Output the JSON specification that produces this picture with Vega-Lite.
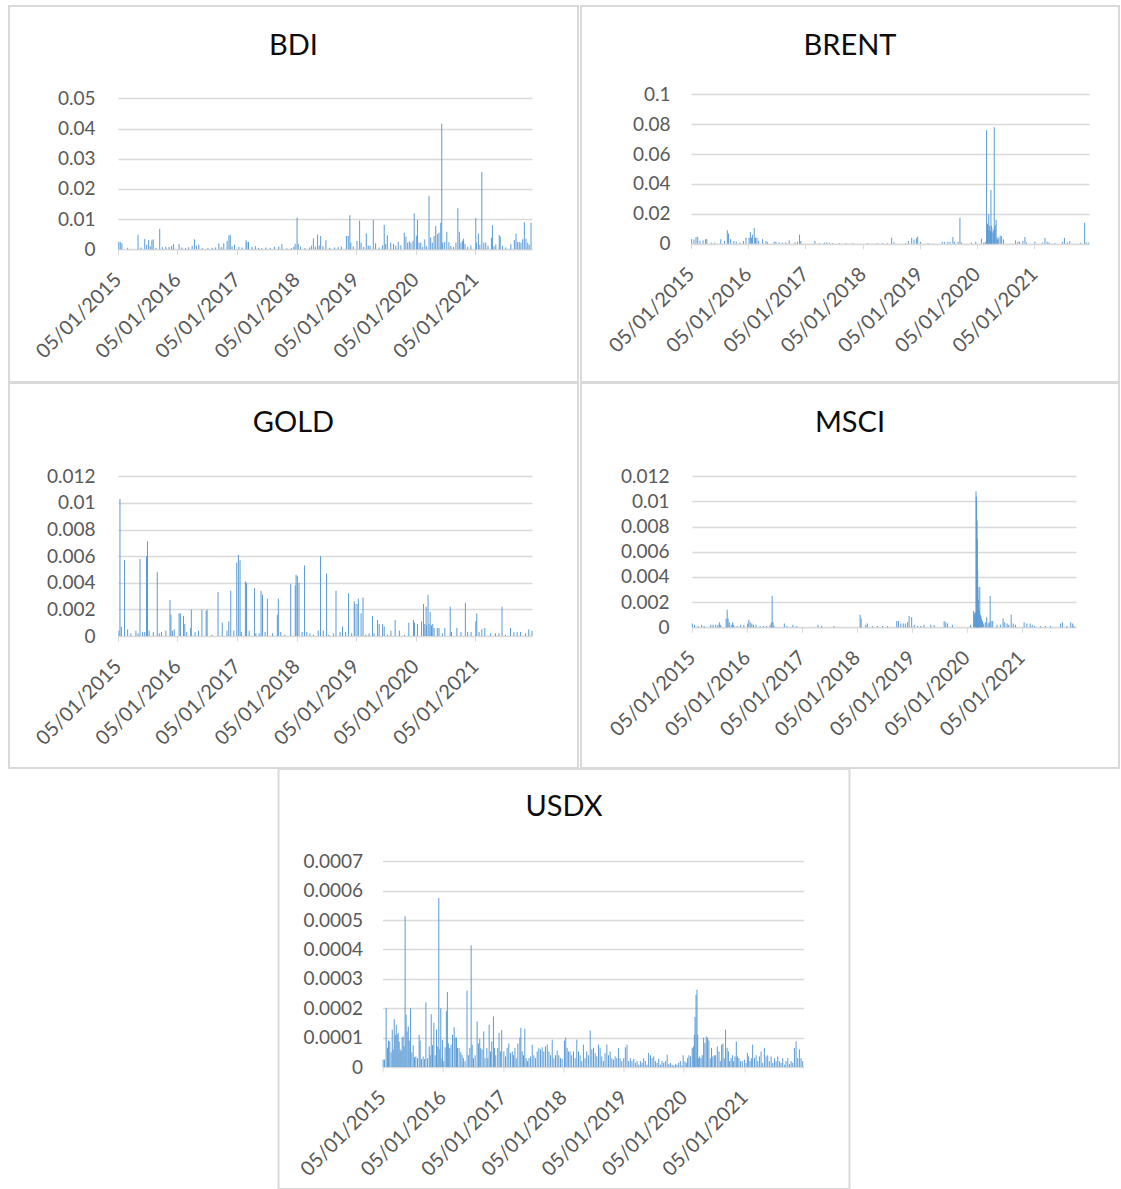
{
"$schema":"https://vega.github.io/schema/vega-lite/v6.json",
"background":"white",
"padding":{"left":8,"top":5,"right":0,"bottom":0},
"config":{
 "view":{"stroke":"#d9d9d9","strokeWidth":2},
 "font":"Lato",
 "axis":{"labelFont":"Lato","labelFontSize":19,"labelColor":"#595959","title":null},
 "axisX":{"labelFontSize":20},
 "title":{"font":"Lato","fontSize":29,"fontWeight":"normal","color":"#0d0d0d","anchor":"middle","frame":"group","baseline":"middle"},
 "rule":{"color":"#5B9BD5","strokeWidth":1}
},
"center":true,
"spacing":-2,
"datasets":{
"BDI":[
{"d":"2015-01-10","v":0.0025},{"d":"2015-01-19","v":0.0024},{"d":"2015-01-29","v":0.002},{"d":"2015-03-05","v":0.0005},{"d":"2015-05-08","v":0.0048},{"d":"2015-05-26","v":0.0006},{"d":"2015-06-18","v":0.0034},{"d":"2015-06-30","v":0.0015},{"d":"2015-07-12","v":0.003},{"d":"2015-07-22","v":0.001},{"d":"2015-08-01","v":0.003},{"d":"2015-08-09","v":0.0033},{"d":"2015-08-26","v":0.0005},{"d":"2015-09-18","v":0.0068},{"d":"2015-10-05","v":0.0007},{"d":"2015-10-26","v":0.0009},{"d":"2015-11-14","v":0.0008},{"d":"2015-11-30","v":0.0011},{"d":"2015-12-12","v":0.0017},
{"d":"2016-01-15","v":0.0017},{"d":"2016-02-01","v":0.0006},{"d":"2016-02-24","v":0.0005},{"d":"2016-03-14","v":0.0007},{"d":"2016-04-04","v":0.0012},{"d":"2016-04-18","v":0.0033},{"d":"2016-04-30","v":0.0012},{"d":"2016-05-15","v":0.0015},{"d":"2016-06-05","v":0.0004},{"d":"2016-07-10","v":0.0004},{"d":"2016-08-05","v":0.0005},{"d":"2016-08-25","v":0.0006},{"d":"2016-09-15","v":0.002},{"d":"2016-09-30","v":0.0008},{"d":"2016-10-15","v":0.002},{"d":"2016-11-05","v":0.0028},{"d":"2016-11-16","v":0.0046},{"d":"2016-11-24","v":0.0048},{"d":"2016-12-05","v":0.001},{"d":"2016-12-20","v":0.0015},
{"d":"2017-01-16","v":0.0008},{"d":"2017-02-05","v":0.0006},{"d":"2017-03-01","v":0.003},{"d":"2017-03-06","v":0.0024},{"d":"2017-03-16","v":0.0024},{"d":"2017-04-07","v":0.0008},{"d":"2017-04-27","v":0.001},{"d":"2017-05-17","v":0.0005},{"d":"2017-06-06","v":0.0004},{"d":"2017-07-01","v":0.0006},{"d":"2017-07-28","v":0.0005},{"d":"2017-08-22","v":0.0009},{"d":"2017-09-18","v":0.0009},{"d":"2017-10-07","v":0.0017},{"d":"2017-11-07","v":0.0003},{"d":"2017-12-04","v":0.0004},{"d":"2017-12-19","v":0.0008},{"d":"2017-12-27","v":0.0018},
{"d":"2018-01-08","v":0.0105},{"d":"2018-01-15","v":0.0018},{"d":"2018-01-29","v":0.0009},{"d":"2018-02-25","v":0.0004},{"d":"2018-03-26","v":0.0006},{"d":"2018-04-06","v":0.0012},{"d":"2018-04-18","v":0.0036},{"d":"2018-04-30","v":0.0009},{"d":"2018-05-14","v":0.0049},{"d":"2018-05-24","v":0.0012},{"d":"2018-06-02","v":0.0044},{"d":"2018-06-16","v":0.001},{"d":"2018-07-04","v":0.003},{"d":"2018-07-27","v":0.0005},{"d":"2018-08-27","v":0.0006},{"d":"2018-09-17","v":0.0007},{"d":"2018-10-07","v":0.0009},{"d":"2018-11-07","v":0.0044},{"d":"2018-11-18","v":0.0045},{"d":"2018-11-28","v":0.0113},{"d":"2018-12-04","v":0.0022},{"d":"2018-12-19","v":0.001},
{"d":"2019-01-11","v":0.0028},{"d":"2019-01-27","v":0.0095},{"d":"2019-02-05","v":0.0022},{"d":"2019-02-21","v":0.0008},{"d":"2019-03-09","v":0.0053},{"d":"2019-03-21","v":0.0012},{"d":"2019-04-01","v":0.0012},{"d":"2019-04-21","v":0.0097},{"d":"2019-05-05","v":0.002},{"d":"2019-05-26","v":0.0006},{"d":"2019-06-16","v":0.0013},{"d":"2019-06-27","v":0.0081},{"d":"2019-07-06","v":0.0018},{"d":"2019-07-16","v":0.0047},{"d":"2019-08-06","v":0.0022},{"d":"2019-08-23","v":0.0018},{"d":"2019-09-06","v":0.0012},{"d":"2019-09-21","v":0.0025},{"d":"2019-10-07","v":0.0013},{"d":"2019-10-28","v":0.0055},{"d":"2019-11-07","v":0.0042},{"d":"2019-11-18","v":0.0022},{"d":"2019-11-28","v":0.0026},{"d":"2019-12-08","v":0.0022},{"d":"2019-12-21","v":0.0028},{"d":"2019-12-28","v":0.0119},
{"d":"2020-01-10","v":0.0045},{"d":"2020-01-17","v":0.0097},{"d":"2020-01-27","v":0.0022},{"d":"2020-02-06","v":0.0022},{"d":"2020-02-18","v":0.0008},{"d":"2020-03-02","v":0.0033},{"d":"2020-03-13","v":0.001},{"d":"2020-03-28","v":0.0177},{"d":"2020-04-07","v":0.0039},{"d":"2020-04-17","v":0.0022},{"d":"2020-04-28","v":0.0044},{"d":"2020-05-08","v":0.0077},{"d":"2020-05-18","v":0.005},{"d":"2020-05-28","v":0.0055},{"d":"2020-06-08","v":0.0088},{"d":"2020-06-14","v":0.0416},{"d":"2020-06-20","v":0.0022},{"d":"2020-07-02","v":0.0024},{"d":"2020-07-15","v":0.0058},{"d":"2020-07-28","v":0.0024},{"d":"2020-08-09","v":0.0011},{"d":"2020-08-25","v":0.0008},{"d":"2020-09-09","v":0.0022},{"d":"2020-09-21","v":0.0136},{"d":"2020-09-30","v":0.0058},{"d":"2020-10-10","v":0.0022},{"d":"2020-10-20","v":0.0028},{"d":"2020-10-26","v":0.0035},{"d":"2020-11-04","v":0.0018},{"d":"2020-11-20","v":0.0008},{"d":"2020-12-10","v":0.0013},
{"d":"2021-01-09","v":0.0103},{"d":"2021-01-13","v":0.0022},{"d":"2021-01-25","v":0.0052},{"d":"2021-02-03","v":0.0015},{"d":"2021-02-15","v":0.0256},{"d":"2021-02-27","v":0.0022},{"d":"2021-03-11","v":0.0022},{"d":"2021-03-25","v":0.0012},{"d":"2021-04-15","v":0.0038},{"d":"2021-04-21","v":0.008},{"d":"2021-05-01","v":0.001},{"d":"2021-05-12","v":0.0016},{"d":"2021-06-02","v":0.0047},{"d":"2021-06-08","v":0.0042},{"d":"2021-06-22","v":0.0011},{"d":"2021-07-12","v":0.0006},{"d":"2021-08-12","v":0.0017},{"d":"2021-09-03","v":0.0031},{"d":"2021-09-13","v":0.0052},{"d":"2021-09-23","v":0.0024},{"d":"2021-10-03","v":0.0024},{"d":"2021-10-13","v":0.0022},{"d":"2021-10-24","v":0.0033},{"d":"2021-11-03","v":0.009},{"d":"2021-11-13","v":0.0035},{"d":"2021-11-24","v":0.0022},{"d":"2021-12-03","v":0.0015},{"d":"2021-12-14","v":0.0088}
],
"BRENT":[
{"d":"2015-01-09","v":0.003},{"d":"2015-01-24","v":0.0028},{"d":"2015-02-06","v":0.0045},{"d":"2015-02-17","v":0.0045},{"d":"2015-03-03","v":0.002},{"d":"2015-03-23","v":0.0022},{"d":"2015-04-08","v":0.003},{"d":"2015-04-16","v":0.003},{"d":"2015-05-14","v":0.0007},{"d":"2015-06-05","v":0.0007},{"d":"2015-07-14","v":0.003},{"d":"2015-08-07","v":0.0018},{"d":"2015-08-25","v":0.009},{"d":"2015-09-02","v":0.0067},{"d":"2015-09-15","v":0.003},{"d":"2015-10-06","v":0.0018},{"d":"2015-10-21","v":0.0013},{"d":"2015-11-12","v":0.0007},{"d":"2015-12-06","v":0.0018},{"d":"2015-12-22","v":0.004},
{"d":"2016-01-11","v":0.004},{"d":"2016-01-19","v":0.0078},{"d":"2016-01-27","v":0.004},{"d":"2016-02-01","v":0.006},{"d":"2016-02-13","v":0.0105},{"d":"2016-02-21","v":0.004},{"d":"2016-03-01","v":0.004},{"d":"2016-03-12","v":0.0018},{"d":"2016-04-06","v":0.003},{"d":"2016-04-28","v":0.0018},{"d":"2016-05-08","v":0.0011},{"d":"2016-06-19","v":0.0013},{"d":"2016-06-30","v":0.0013},{"d":"2016-07-20","v":0.0009},{"d":"2016-08-11","v":0.0007},{"d":"2016-09-02","v":0.0009},{"d":"2016-09-23","v":0.0022},{"d":"2016-10-30","v":0.0009},{"d":"2016-11-15","v":0.0013},{"d":"2016-11-28","v":0.006},{"d":"2016-12-06","v":0.0018},
{"d":"2017-03-06","v":0.0018},{"d":"2017-04-05","v":0.0004},{"d":"2017-05-06","v":0.0007},{"d":"2017-05-21","v":0.0009},{"d":"2017-06-07","v":0.0007},{"d":"2017-06-28","v":0.0004},{"d":"2017-08-10","v":0.0004},{"d":"2017-09-21","v":0.0004},{"d":"2017-11-03","v":0.0004},
{"d":"2018-02-05","v":0.0004},{"d":"2018-04-09","v":0.0004},{"d":"2018-05-10","v":0.0004},{"d":"2018-06-12","v":0.0004},{"d":"2018-07-09","v":0.004},{"d":"2018-07-24","v":0.0009},{"d":"2018-10-06","v":0.0004},{"d":"2018-10-24","v":0.0018},{"d":"2018-11-14","v":0.004},{"d":"2018-11-29","v":0.0027},{"d":"2018-12-14","v":0.0036},{"d":"2018-12-22","v":0.0047},
{"d":"2019-01-09","v":0.0013},{"d":"2019-02-27","v":0.0004},{"d":"2019-05-28","v":0.0013},{"d":"2019-06-12","v":0.0011},{"d":"2019-07-03","v":0.0013},{"d":"2019-07-17","v":0.0013},{"d":"2019-08-04","v":0.0045},{"d":"2019-08-15","v":0.0013},{"d":"2019-09-06","v":0.0013},{"d":"2019-09-18","v":0.0174},{"d":"2019-09-27","v":0.0009},{"d":"2019-12-01","v":0.0007},{"d":"2019-12-28","v":0.0013},
{"d":"2020-02-02","v":0.0033},{"d":"2020-02-16","v":0.0007},{"d":"2020-02-27","v":0.0013},{"d":"2020-03-06","v":0.076},{"d":"2020-03-09","v":0.0101},{"d":"2020-03-12","v":0.0134},{"d":"2020-03-16","v":0.009},{"d":"2020-03-20","v":0.0196},{"d":"2020-03-24","v":0.012},{"d":"2020-03-27","v":0.007},{"d":"2020-03-31","v":0.0085},{"d":"2020-04-03","v":0.036},{"d":"2020-04-06","v":0.012},{"d":"2020-04-09","v":0.0107},{"d":"2020-04-15","v":0.0076},{"d":"2020-04-20","v":0.009},{"d":"2020-04-24","v":0.078},{"d":"2020-04-27","v":0.011},{"d":"2020-04-30","v":0.0125},{"d":"2020-05-06","v":0.016},{"d":"2020-05-11","v":0.0045},{"d":"2020-05-15","v":0.0029},{"d":"2020-05-23","v":0.004},{"d":"2020-06-01","v":0.0054},{"d":"2020-06-10","v":0.005},{"d":"2020-06-22","v":0.0029},{"d":"2020-09-07","v":0.0022},{"d":"2020-09-22","v":0.0013},{"d":"2020-10-02","v":0.0013},{"d":"2020-10-24","v":0.0018},{"d":"2020-11-06","v":0.0045},{"d":"2020-11-15","v":0.0009},
{"d":"2021-01-09","v":0.0013},{"d":"2021-02-27","v":0.0007},{"d":"2021-03-14","v":0.004},{"d":"2021-03-28","v":0.0013},{"d":"2021-04-09","v":0.0009},{"d":"2021-05-16","v":0.0004},{"d":"2021-07-03","v":0.0013},{"d":"2021-07-16","v":0.004},{"d":"2021-08-04","v":0.0009},{"d":"2021-08-19","v":0.0018},{"d":"2021-10-28","v":0.0007},{"d":"2021-11-22","v":0.014},{"d":"2021-12-02","v":0.0009},{"d":"2021-12-16","v":0.0007}
],
"GOLD":[
{"d":"2015-01-11","v":0.0004},{"d":"2015-01-17","v":0.0103},{"d":"2015-01-26","v":0.0007},{"d":"2015-02-14","v":0.0057},{"d":"2015-03-05","v":0.0005},{"d":"2015-03-25","v":0.0002},{"d":"2015-04-25","v":0.0004},{"d":"2015-05-08","v":0.0002},{"d":"2015-05-20","v":0.0058},{"d":"2015-06-05","v":0.0003},{"d":"2015-06-18","v":0.0003},{"d":"2015-06-29","v":0.006},{"d":"2015-07-05","v":0.0071},{"d":"2015-07-15","v":0.0004},{"d":"2015-08-10","v":0.0003},{"d":"2015-09-03","v":0.0048},{"d":"2015-09-15","v":0.0002},{"d":"2015-09-29","v":0.0003},{"d":"2015-10-26","v":0.0004},{"d":"2015-11-20","v":0.0027},{"d":"2015-11-26","v":0.0016},{"d":"2015-12-05","v":0.0004},{"d":"2015-12-16","v":0.0005},
{"d":"2016-01-15","v":0.0017},{"d":"2016-01-23","v":0.0017},{"d":"2016-02-11","v":0.0015},{"d":"2016-02-19","v":0.0009},{"d":"2016-03-02","v":0.0003},{"d":"2016-03-26","v":0.0006},{"d":"2016-03-30","v":0.002},{"d":"2016-04-22","v":0.0003},{"d":"2016-05-13","v":0.0004},{"d":"2016-06-03","v":0.002},{"d":"2016-06-29","v":0.0019},{"d":"2016-07-05","v":0.002},{"d":"2016-08-03","v":0.0001},{"d":"2016-09-10","v":0.0033},{"d":"2016-10-06","v":0.001},{"d":"2016-11-04","v":0.0004},{"d":"2016-11-15","v":0.0011},{"d":"2016-11-27","v":0.0034},{"d":"2016-12-16","v":0.0004},
{"d":"2017-01-03","v":0.0055},{"d":"2017-01-13","v":0.0061},{"d":"2017-01-23","v":0.0057},{"d":"2017-01-31","v":0.0003},{"d":"2017-02-25","v":0.0041},{"d":"2017-03-04","v":0.004},{"d":"2017-03-20","v":0.0004},{"d":"2017-04-22","v":0.0036},{"d":"2017-04-30","v":0.0002},{"d":"2017-05-20","v":0.0002},{"d":"2017-06-01","v":0.0034},{"d":"2017-06-10","v":0.0031},{"d":"2017-06-26","v":0.0003},{"d":"2017-07-10","v":0.0028},{"d":"2017-08-10","v":0.0002},{"d":"2017-09-09","v":0.0016},{"d":"2017-09-15","v":0.0028},{"d":"2017-09-30","v":0.0003},{"d":"2017-10-25","v":0.0001},{"d":"2017-11-30","v":0.0039},{"d":"2017-12-28","v":0.0038},
{"d":"2018-01-02","v":0.0046},{"d":"2018-01-10","v":0.0045},{"d":"2018-01-20","v":0.004},{"d":"2018-02-08","v":0.0003},{"d":"2018-02-23","v":0.0053},{"d":"2018-03-09","v":0.0003},{"d":"2018-03-28","v":0.0002},{"d":"2018-04-18","v":0.0001},{"d":"2018-05-18","v":0.0004},{"d":"2018-06-01","v":0.006},{"d":"2018-06-18","v":0.0004},{"d":"2018-07-08","v":0.0047},{"d":"2018-07-22","v":0.0001},{"d":"2018-08-19","v":0.0002},{"d":"2018-09-04","v":0.0034},{"d":"2018-09-29","v":0.0003},{"d":"2018-10-14","v":0.0007},{"d":"2018-11-02","v":0.0003},{"d":"2018-11-20","v":0.0032},{"d":"2018-12-09","v":0.0002},{"d":"2018-12-25","v":0.0026},{"d":"2018-12-29","v":0.0024},
{"d":"2019-01-11","v":0.0024},{"d":"2019-01-19","v":0.0028},{"d":"2019-02-05","v":0.0017},{"d":"2019-02-17","v":0.0029},{"d":"2019-03-06","v":0.0001},{"d":"2019-03-26","v":0.0002},{"d":"2019-04-16","v":0.0015},{"d":"2019-04-26","v":0.0002},{"d":"2019-05-17","v":0.0012},{"d":"2019-05-27","v":0.0009},{"d":"2019-06-17","v":0.0009},{"d":"2019-06-27","v":0.0007},{"d":"2019-07-17","v":0.0001},{"d":"2019-08-07","v":0.0004},{"d":"2019-09-02","v":0.0012},{"d":"2019-09-28","v":0.0004},{"d":"2019-10-29","v":0.0001},{"d":"2019-11-25","v":0.001},{"d":"2019-12-24","v":0.0012},{"d":"2019-12-30","v":0.001},
{"d":"2020-01-17","v":0.0009},{"d":"2020-02-11","v":0.0011},{"d":"2020-02-23","v":0.0024},{"d":"2020-03-02","v":0.0009},{"d":"2020-03-10","v":0.0022},{"d":"2020-03-13","v":0.0008},{"d":"2020-03-22","v":0.0031},{"d":"2020-03-28","v":0.0009},{"d":"2020-04-04","v":0.0018},{"d":"2020-04-12","v":0.0008},{"d":"2020-04-20","v":0.0009},{"d":"2020-04-28","v":0.0006},{"d":"2020-05-18","v":0.0006},{"d":"2020-05-28","v":0.0006},{"d":"2020-06-18","v":0.0002},{"d":"2020-07-03","v":0.0006},{"d":"2020-08-05","v":0.0022},{"d":"2020-08-13","v":0.0003},{"d":"2020-09-15","v":0.0006},{"d":"2020-10-10","v":0.0003},{"d":"2020-11-06","v":0.0025},{"d":"2020-11-20","v":0.0003},{"d":"2020-12-11","v":0.0003},
{"d":"2021-01-09","v":0.0011},{"d":"2021-01-15","v":0.0017},{"d":"2021-01-29","v":0.0003},{"d":"2021-02-15","v":0.0005},{"d":"2021-03-05","v":0.0006},{"d":"2021-04-10","v":0.0002},{"d":"2021-05-10","v":0.0002},{"d":"2021-05-31","v":0.0002},{"d":"2021-06-19","v":0.0022},{"d":"2021-07-10","v":0.0001},{"d":"2021-08-10","v":0.0006},{"d":"2021-08-31","v":0.0003},{"d":"2021-09-20","v":0.0003},{"d":"2021-10-10","v":0.0003},{"d":"2021-11-10","v":0.0002},{"d":"2021-11-30","v":0.0005},{"d":"2021-12-20","v":0.0004}
],
"MSCI":[
{"d":"2015-01-07","v":0.0003},{"d":"2015-01-22","v":0.0002},{"d":"2015-02-14","v":0.0001},{"d":"2015-03-10","v":0.0002},{"d":"2015-03-27","v":0.0001},{"d":"2015-05-10","v":0.0002},{"d":"2015-05-25","v":0.0002},{"d":"2015-06-12","v":0.0002},{"d":"2015-06-27","v":0.0002},{"d":"2015-07-06","v":0.0004},{"d":"2015-07-15","v":0.0002},{"d":"2015-08-20","v":0.0007},{"d":"2015-08-27","v":0.0014},{"d":"2015-09-02","v":0.0007},{"d":"2015-09-10","v":0.0004},{"d":"2015-09-23","v":0.0002},{"d":"2015-10-02","v":0.0004},{"d":"2015-10-10","v":0.0002},{"d":"2015-11-02","v":0.0001},{"d":"2015-11-25","v":0.0002},{"d":"2015-12-16","v":0.0002},
{"d":"2016-01-10","v":0.0003},{"d":"2016-01-18","v":0.0006},{"d":"2016-01-27","v":0.0004},{"d":"2016-02-07","v":0.0003},{"d":"2016-02-18","v":0.0002},{"d":"2016-03-06","v":0.0002},{"d":"2016-04-02","v":0.0001},{"d":"2016-04-24","v":0.0001},{"d":"2016-05-16","v":0.0001},{"d":"2016-06-07","v":0.0002},{"d":"2016-06-16","v":0.0004},{"d":"2016-06-21","v":0.0025},{"d":"2016-06-27","v":0.0004},{"d":"2016-07-04","v":0.0001},{"d":"2016-09-10","v":0.0003},{"d":"2016-09-27","v":0.0001},{"d":"2016-11-06","v":0.0002},{"d":"2016-12-02","v":0.0001},
{"d":"2017-04-22","v":0.0002},{"d":"2017-05-16","v":0.0001},{"d":"2017-08-06","v":0.0001},
{"d":"2018-01-27","v":0.001},{"d":"2018-02-03","v":0.0007},{"d":"2018-03-06","v":0.0002},{"d":"2018-03-16","v":0.0003},{"d":"2018-04-19","v":0.0001},{"d":"2018-05-22","v":0.0001},{"d":"2018-06-25","v":0.0001},{"d":"2018-07-28","v":0.0001},{"d":"2018-09-28","v":0.0005},{"d":"2018-10-09","v":0.0005},{"d":"2018-10-25","v":0.0003},{"d":"2018-11-10","v":0.0003},{"d":"2018-11-24","v":0.0003},{"d":"2018-12-09","v":0.0004},{"d":"2018-12-19","v":0.0009},
{"d":"2019-01-05","v":0.0008},{"d":"2019-01-22","v":0.0002},{"d":"2019-02-14","v":0.0001},{"d":"2019-03-06","v":0.0001},{"d":"2019-03-28","v":0.0002},{"d":"2019-05-12","v":0.0002},{"d":"2019-06-03","v":0.0002},{"d":"2019-08-09","v":0.0005},{"d":"2019-08-20","v":0.0004},{"d":"2019-09-01","v":0.0003},{"d":"2019-10-03","v":0.0002},
{"d":"2020-02-01","v":0.0002},{"d":"2020-02-21","v":0.0013},{"d":"2020-02-27","v":0.0011},{"d":"2020-03-04","v":0.0012},{"d":"2020-03-08","v":0.0108},{"d":"2020-03-10","v":0.0104},{"d":"2020-03-12","v":0.01},{"d":"2020-03-15","v":0.0085},{"d":"2020-03-17","v":0.007},{"d":"2020-03-19","v":0.0045},{"d":"2020-03-21","v":0.0032},{"d":"2020-03-24","v":0.0022},{"d":"2020-03-26","v":0.0015},{"d":"2020-03-30","v":0.0013},{"d":"2020-04-02","v":0.0032},{"d":"2020-04-06","v":0.001},{"d":"2020-04-09","v":0.0009},{"d":"2020-04-13","v":0.0007},{"d":"2020-04-20","v":0.0005},{"d":"2020-04-28","v":0.0003},{"d":"2020-05-09","v":0.0004},{"d":"2020-05-18","v":0.0008},{"d":"2020-05-27","v":0.0003},{"d":"2020-06-04","v":0.0004},{"d":"2020-06-10","v":0.0025},{"d":"2020-06-16","v":0.0005},{"d":"2020-06-27","v":0.0005},{"d":"2020-07-25","v":0.0002},{"d":"2020-08-17","v":0.0002},{"d":"2020-09-04","v":0.0007},{"d":"2020-09-15","v":0.0004},{"d":"2020-10-01","v":0.0003},{"d":"2020-10-12","v":0.0002},{"d":"2020-10-28","v":0.001},{"d":"2020-11-10","v":0.0003},{"d":"2020-11-26","v":0.0002},
{"d":"2021-01-22","v":0.0004},{"d":"2021-02-09","v":0.0003},{"d":"2021-03-03","v":0.0003},{"d":"2021-03-17","v":0.0002},{"d":"2021-04-02","v":0.0001},{"d":"2021-05-12","v":0.0001},{"d":"2021-06-14","v":0.0001},{"d":"2021-07-17","v":0.0001},{"d":"2021-09-22","v":0.0003},{"d":"2021-10-04","v":0.0004},{"d":"2021-11-02","v":0.0001},{"d":"2021-11-28","v":0.0004},{"d":"2021-12-11","v":0.0003},{"d":"2021-12-19","v":0.0001}
],
"USDX":[
{"d":"2015-01-09","v":0.000025},{"d":"2015-01-17","v":0.000025},{"d":"2015-01-27","v":0.0002},{"d":"2015-02-04","v":0.000065},{"d":"2015-02-10","v":0.00009},{"d":"2015-02-18","v":0.000087},{"d":"2015-02-26","v":0.00005},{"d":"2015-03-05","v":0.000127},{"d":"2015-03-11","v":0.00006},{"d":"2015-03-17","v":0.000163},{"d":"2015-03-23","v":0.00011},{"d":"2015-03-29","v":0.000144},{"d":"2015-04-04","v":0.00011},{"d":"2015-04-10","v":0.000116},{"d":"2015-04-16","v":0.000087},{"d":"2015-04-22","v":0.00006},{"d":"2015-04-28","v":0.000055},{"d":"2015-05-04","v":0.0001},{"d":"2015-05-10","v":0.000104},{"d":"2015-05-16","v":0.00007},{"d":"2015-05-22","v":0.000513},{"d":"2015-05-28","v":0.000178},{"d":"2015-06-03","v":0.000121},{"d":"2015-06-10","v":0.000138},{"d":"2015-06-16","v":0.00009},{"d":"2015-06-24","v":0.0002},{"d":"2015-07-02","v":0.00005},{"d":"2015-07-10","v":0.000074},{"d":"2015-07-18","v":0.000033},{"d":"2015-07-26","v":0.000036},{"d":"2015-08-05","v":0.00003},{"d":"2015-08-15","v":0.00011},{"d":"2015-08-21","v":0.00009},{"d":"2015-08-29","v":0.000027},{"d":"2015-09-08","v":0.000036},{"d":"2015-09-17","v":0.000027},{"d":"2015-09-25","v":0.00022},{"d":"2015-10-05","v":0.00003},{"d":"2015-10-15","v":0.00007},{"d":"2015-10-21","v":0.00004},{"d":"2015-10-27","v":0.00018},{"d":"2015-11-04","v":0.000074},{"d":"2015-11-12","v":0.00015},{"d":"2015-11-20","v":0.00004},{"d":"2015-11-28","v":0.000127},{"d":"2015-12-06","v":0.00007},{"d":"2015-12-12","v":0.000575},{"d":"2015-12-18","v":0.00006},{"d":"2015-12-24","v":0.0002},{"d":"2015-12-31","v":0.00003},
{"d":"2016-01-03","v":0.000092},{"d":"2016-01-11","v":0.00002},{"d":"2016-01-19","v":0.000067},{"d":"2016-01-27","v":0.00019},{"d":"2016-02-02","v":0.000255},{"d":"2016-02-08","v":0.00008},{"d":"2016-02-16","v":0.000065},{"d":"2016-02-24","v":0.000076},{"d":"2016-03-04","v":0.00011},{"d":"2016-03-14","v":0.000135},{"d":"2016-03-20","v":0.0001},{"d":"2016-03-28","v":0.0001},{"d":"2016-04-03","v":0.000065},{"d":"2016-04-13","v":0.000065},{"d":"2016-04-23","v":0.00005},{"d":"2016-05-01","v":0.00004},{"d":"2016-05-09","v":0.00003},{"d":"2016-05-19","v":0.00002},{"d":"2016-05-31","v":0.00026},{"d":"2016-06-08","v":0.00004},{"d":"2016-06-17","v":0.000065},{"d":"2016-06-25","v":0.000414},{"d":"2016-07-01","v":0.000076},{"d":"2016-07-09","v":0.00003},{"d":"2016-07-19","v":0.00004},{"d":"2016-07-31","v":0.000155},{"d":"2016-08-08","v":0.00008},{"d":"2016-08-16","v":0.000096},{"d":"2016-08-22","v":0.000065},{"d":"2016-08-30","v":0.00006},{"d":"2016-09-09","v":0.000121},{"d":"2016-09-17","v":0.00003},{"d":"2016-09-28","v":0.000065},{"d":"2016-10-04","v":0.00003},{"d":"2016-10-12","v":0.000144},{"d":"2016-10-20","v":0.000053},{"d":"2016-10-28","v":0.000087},{"d":"2016-11-07","v":0.000172},{"d":"2016-11-13","v":0.000065},{"d":"2016-11-21","v":0.00004},{"d":"2016-12-03","v":0.000065},{"d":"2016-12-11","v":0.000116},{"d":"2016-12-19","v":0.000053},{"d":"2016-12-27","v":0.000126},
{"d":"2017-01-09","v":0.000053},{"d":"2017-01-19","v":0.000036},{"d":"2017-01-29","v":0.000065},{"d":"2017-02-08","v":0.00008},{"d":"2017-02-18","v":0.000048},{"d":"2017-03-01","v":0.000053},{"d":"2017-03-09","v":0.00004},{"d":"2017-03-17","v":0.000065},{"d":"2017-03-25","v":0.00003},{"d":"2017-04-04","v":0.00008},{"d":"2017-04-16","v":0.0001},{"d":"2017-04-22","v":0.000133},{"d":"2017-04-30","v":0.000053},{"d":"2017-05-08","v":0.00004},{"d":"2017-05-16","v":0.00013},{"d":"2017-05-24","v":0.00003},{"d":"2017-06-01","v":0.00002},{"d":"2017-06-10","v":0.00003},{"d":"2017-06-20","v":0.000036},{"d":"2017-06-30","v":0.000076},{"d":"2017-07-10","v":0.00004},{"d":"2017-07-20","v":0.00003},{"d":"2017-07-30","v":0.000053},{"d":"2017-08-09","v":0.000065},{"d":"2017-08-19","v":0.00006},{"d":"2017-08-29","v":0.000067},{"d":"2017-09-08","v":0.000053},{"d":"2017-09-18","v":0.00007},{"d":"2017-09-29","v":0.000076},{"d":"2017-10-09","v":0.000053},{"d":"2017-10-19","v":0.00004},{"d":"2017-10-29","v":0.000093},{"d":"2017-11-08","v":0.00003},{"d":"2017-11-18","v":0.00004},{"d":"2017-11-28","v":0.000056},{"d":"2017-12-08","v":0.00004},{"d":"2017-12-18","v":0.00003},{"d":"2017-12-28","v":0.000028},
{"d":"2018-01-11","v":0.00009},{"d":"2018-01-19","v":0.0001},{"d":"2018-01-27","v":0.000065},{"d":"2018-02-04","v":0.000053},{"d":"2018-02-14","v":0.000053},{"d":"2018-02-24","v":0.00004},{"d":"2018-03-07","v":0.000053},{"d":"2018-03-17","v":0.00003},{"d":"2018-03-27","v":0.000093},{"d":"2018-04-06","v":0.000053},{"d":"2018-04-16","v":0.00004},{"d":"2018-04-26","v":0.00002},{"d":"2018-05-06","v":0.000076},{"d":"2018-05-16","v":0.00003},{"d":"2018-05-26","v":0.000053},{"d":"2018-06-05","v":0.00004},{"d":"2018-06-16","v":0.000124},{"d":"2018-06-26","v":0.00006},{"d":"2018-07-06","v":0.000065},{"d":"2018-07-16","v":0.000047},{"d":"2018-07-26","v":0.000036},{"d":"2018-08-05","v":0.000076},{"d":"2018-08-15","v":0.000065},{"d":"2018-08-25","v":0.000036},{"d":"2018-09-04","v":0.00002},{"d":"2018-09-14","v":0.000047},{"d":"2018-09-25","v":0.000076},{"d":"2018-10-05","v":0.00004},{"d":"2018-10-15","v":0.000053},{"d":"2018-10-25","v":0.00003},{"d":"2018-11-04","v":0.000025},{"d":"2018-11-14","v":0.000036},{"d":"2018-11-24","v":0.00003},{"d":"2018-12-04","v":0.000065},{"d":"2018-12-14","v":0.00003},{"d":"2018-12-24","v":0.00002},
{"d":"2019-01-05","v":0.00003},{"d":"2019-01-15","v":0.000067},{"d":"2019-01-25","v":0.000076},{"d":"2019-02-04","v":0.00002},{"d":"2019-02-14","v":0.00003},{"d":"2019-02-24","v":0.00002},{"d":"2019-03-07","v":0.000028},{"d":"2019-03-17","v":0.000014},{"d":"2019-03-27","v":0.00002},{"d":"2019-04-06","v":0.000008},{"d":"2019-04-16","v":0.00002},{"d":"2019-04-26","v":0.000014},{"d":"2019-05-06","v":0.00003},{"d":"2019-05-16","v":0.00002},{"d":"2019-05-26","v":0.000008},{"d":"2019-06-05","v":0.000048},{"d":"2019-06-16","v":0.00004},{"d":"2019-06-26","v":0.00003},{"d":"2019-07-06","v":0.000036},{"d":"2019-07-16","v":0.00002},{"d":"2019-07-26","v":0.000014},{"d":"2019-08-05","v":0.000028},{"d":"2019-08-15","v":0.000008},{"d":"2019-08-25","v":0.00002},{"d":"2019-09-04","v":0.000014},{"d":"2019-09-14","v":0.00002},{"d":"2019-09-25","v":0.000042},{"d":"2019-10-05","v":0.00001},{"d":"2019-10-15","v":0.000014},{"d":"2019-10-25","v":0.000008},{"d":"2019-11-04","v":0.000005},{"d":"2019-11-14","v":0.00001},{"d":"2019-11-24","v":0.000008},{"d":"2019-12-04","v":0.000014},{"d":"2019-12-14","v":0.00002},{"d":"2019-12-24","v":0.000005},{"d":"2019-12-31","v":0.00004},
{"d":"2020-01-11","v":0.00002},{"d":"2020-01-19","v":0.000014},{"d":"2020-01-27","v":0.00003},{"d":"2020-02-04","v":0.00004},{"d":"2020-02-14","v":0.000036},{"d":"2020-02-24","v":0.000065},{"d":"2020-03-02","v":0.00007},{"d":"2020-03-08","v":0.00011},{"d":"2020-03-12","v":0.00017},{"d":"2020-03-18","v":0.000246},{"d":"2020-03-24","v":0.000263},{"d":"2020-03-28","v":0.00011},{"d":"2020-04-03","v":0.00003},{"d":"2020-04-09","v":0.000036},{"d":"2020-04-17","v":0.00003},{"d":"2020-04-25","v":0.00004},{"d":"2020-05-03","v":0.0001},{"d":"2020-05-11","v":0.000082},{"d":"2020-05-19","v":0.000104},{"d":"2020-05-27","v":0.0001},{"d":"2020-06-04","v":0.00009},{"d":"2020-06-12","v":0.00003},{"d":"2020-06-20","v":0.000065},{"d":"2020-06-28","v":0.000036},{"d":"2020-07-07","v":0.00004},{"d":"2020-07-15","v":0.00004},{"d":"2020-07-25","v":0.00007},{"d":"2020-08-04","v":0.000053},{"d":"2020-08-12","v":0.00002},{"d":"2020-08-20","v":0.000076},{"d":"2020-08-28","v":0.00008},{"d":"2020-09-05","v":0.00003},{"d":"2020-09-13","v":0.000127},{"d":"2020-09-22","v":0.000065},{"d":"2020-09-30","v":0.000053},{"d":"2020-10-08","v":0.00002},{"d":"2020-10-16","v":0.00003},{"d":"2020-10-24","v":0.00004},{"d":"2020-11-01","v":0.00002},{"d":"2020-11-09","v":0.000036},{"d":"2020-11-17","v":0.000087},{"d":"2020-11-25","v":0.000036},{"d":"2020-12-03","v":0.00003},{"d":"2020-12-13","v":0.00002},{"d":"2020-12-23","v":0.00002},
{"d":"2021-01-05","v":0.000025},{"d":"2021-01-15","v":0.000014},{"d":"2021-01-23","v":0.000048},{"d":"2021-01-31","v":0.000036},{"d":"2021-02-08","v":0.00002},{"d":"2021-02-16","v":0.00003},{"d":"2021-02-24","v":0.000076},{"d":"2021-03-07","v":0.00003},{"d":"2021-03-17","v":0.00004},{"d":"2021-03-27","v":0.00002},{"d":"2021-04-06","v":0.000036},{"d":"2021-04-16","v":0.000053},{"d":"2021-04-26","v":0.000014},{"d":"2021-05-06","v":0.000065},{"d":"2021-05-16","v":0.000036},{"d":"2021-05-26","v":0.00004},{"d":"2021-06-05","v":0.00002},{"d":"2021-06-16","v":0.000036},{"d":"2021-06-26","v":0.000014},{"d":"2021-07-06","v":0.00003},{"d":"2021-07-16","v":0.00002},{"d":"2021-07-26","v":0.000036},{"d":"2021-08-05","v":0.00002},{"d":"2021-08-15","v":0.000014},{"d":"2021-08-25","v":0.00003},{"d":"2021-09-04","v":0.000008},{"d":"2021-09-14","v":0.00002},{"d":"2021-09-25","v":0.00003},{"d":"2021-10-05","v":0.00001},{"d":"2021-10-15","v":0.00002},{"d":"2021-10-25","v":0.000014},{"d":"2021-11-04","v":0.000065},{"d":"2021-11-14","v":0.000087},{"d":"2021-11-24","v":0.00003},{"d":"2021-12-04","v":0.00006},{"d":"2021-12-14","v":0.00003},{"d":"2021-12-24","v":0.00002}
]
},
"vconcat":[
{"hconcat":[
 {"width":569,"height":376,"data":{"name":"BDI"},"title":{"text":"BDI","offset":-55},"mark":{"type":"rule"},
  "encoding":{
   "x":{"field":"d","type":"temporal","scale":{"domain":[{"year":2015,"month":1,"date":5},{"year":2021,"month":12,"date":20}],"range":[109,523]},
        "axis":{"values":[{"year":2015,"month":1,"date":5},{"year":2016,"month":1,"date":5},{"year":2017,"month":1,"date":5},{"year":2018,"month":1,"date":5},{"year":2019,"month":1,"date":5},{"year":2020,"month":1,"date":5},{"year":2021,"month":1,"date":5}],"format":"%d/%m/%Y","labelAngle":-45,"labelAlign":"right","labelBaseline":"middle","labelOverlap":false,"labelFlush":false,"labelBound":false,"grid":false,"domainColor":"#d9d9d9","tickColor":"#d9d9d9","tickSize":5,"labelPadding":22,"offset":-132.7}},
   "y":{"field":"v","type":"quantitative","scale":{"domain":[0,0.05],"range":[243.3,92.3],"nice":false},
        "axis":{"values":[0,0.01,0.02,0.03,0.04,0.05],"format":"~g","ticks":false,"tickSize":0,"domain":false,"grid":true,"gridColor":"#d9d9d9","gridWidth":1.3,"labelPadding":23,"offset":-109}},
   "y2":{"datum":0}}},
 {"width":538,"height":376,"data":{"name":"BRENT"},"title":{"text":"BRENT","offset":-55},"mark":{"type":"rule"},
  "encoding":{
   "x":{"field":"d","type":"temporal","scale":{"domain":[{"year":2015,"month":1,"date":5},{"year":2021,"month":12,"date":20}],"range":[110,508]},
        "axis":{"values":[{"year":2015,"month":1,"date":5},{"year":2016,"month":1,"date":5},{"year":2017,"month":1,"date":5},{"year":2018,"month":1,"date":5},{"year":2019,"month":1,"date":5},{"year":2020,"month":1,"date":5},{"year":2021,"month":1,"date":5}],"format":"%d/%m/%Y","labelAngle":-45,"labelAlign":"right","labelBaseline":"middle","labelOverlap":false,"labelFlush":false,"labelBound":false,"grid":false,"domainColor":"#d9d9d9","tickColor":"#d9d9d9","tickSize":5,"labelPadding":22,"offset":-138.3}},
   "y":{"field":"v","type":"quantitative","scale":{"domain":[0,0.1],"range":[237.7,88.3],"nice":false},
        "axis":{"values":[0,0.02,0.04,0.06,0.08,0.1],"format":"~g","ticks":false,"tickSize":0,"domain":false,"grid":true,"gridColor":"#d9d9d9","gridWidth":1.3,"labelPadding":21,"offset":-110}},
   "y2":{"datum":0}}}
],"spacing":1},
{"hconcat":[
 {"width":569,"height":385,"data":{"name":"GOLD"},"title":{"text":"GOLD","offset":-55},"mark":{"type":"rule"},
  "encoding":{
   "x":{"field":"d","type":"temporal","scale":{"domain":[{"year":2015,"month":1,"date":5},{"year":2021,"month":12,"date":20}],"range":[109,523]},
        "axis":{"values":[{"year":2015,"month":1,"date":5},{"year":2016,"month":1,"date":5},{"year":2017,"month":1,"date":5},{"year":2018,"month":1,"date":5},{"year":2019,"month":1,"date":5},{"year":2020,"month":1,"date":5},{"year":2021,"month":1,"date":5}],"format":"%d/%m/%Y","labelAngle":-45,"labelAlign":"right","labelBaseline":"middle","labelOverlap":false,"labelFlush":false,"labelBound":false,"grid":false,"domainColor":"#d9d9d9","tickColor":"#d9d9d9","tickSize":5,"labelPadding":22,"offset":-132}},
   "y":{"field":"v","type":"quantitative","scale":{"domain":[0,0.012],"range":[253,93.3],"nice":false},
        "axis":{"values":[0,0.002,0.004,0.006,0.008,0.01,0.012],"format":"~g","ticks":false,"tickSize":0,"domain":false,"grid":true,"gridColor":"#d9d9d9","gridWidth":1.3,"labelPadding":23,"offset":-109}},
   "y2":{"datum":0}}},
 {"width":538,"height":385,"data":{"name":"MSCI"},"title":{"text":"MSCI","offset":-55},"mark":{"type":"rule"},
  "encoding":{
   "x":{"field":"d","type":"temporal","scale":{"domain":[{"year":2015,"month":1,"date":5},{"year":2022,"month":1,"date":2}],"range":[111,495]},
        "axis":{"values":[{"year":2015,"month":1,"date":5},{"year":2016,"month":1,"date":5},{"year":2017,"month":1,"date":5},{"year":2018,"month":1,"date":5},{"year":2019,"month":1,"date":5},{"year":2020,"month":1,"date":5},{"year":2021,"month":1,"date":5}],"format":"%d/%m/%Y","labelAngle":-45,"labelAlign":"right","labelBaseline":"middle","labelOverlap":false,"labelFlush":false,"labelBound":false,"grid":false,"domainColor":"#d9d9d9","tickColor":"#d9d9d9","tickSize":5,"labelPadding":22,"offset":-140.7}},
   "y":{"field":"v","type":"quantitative","scale":{"domain":[0,0.012],"range":[244.3,93.3],"nice":false},
        "axis":{"values":[0,0.002,0.004,0.006,0.008,0.01,0.012],"format":"~g","ticks":false,"tickSize":0,"domain":false,"grid":true,"gridColor":"#d9d9d9","gridWidth":1.3,"labelPadding":23,"offset":-111}},
   "y2":{"datum":0}}}
],"spacing":1},
 {"width":571,"height":420,"data":{"name":"USDX"},"title":{"text":"USDX","offset":-53},"mark":{"type":"rule"},
  "encoding":{
   "x":{"field":"d","type":"temporal","scale":{"domain":[{"year":2015,"month":1,"date":5},{"year":2021,"month":12,"date":29}],"range":[104,525]},
        "axis":{"values":[{"year":2015,"month":1,"date":5},{"year":2016,"month":1,"date":5},{"year":2017,"month":1,"date":5},{"year":2018,"month":1,"date":5},{"year":2019,"month":1,"date":5},{"year":2020,"month":1,"date":5},{"year":2021,"month":1,"date":5}],"format":"%d/%m/%Y","labelAngle":-45,"labelAlign":"right","labelBaseline":"middle","labelOverlap":false,"labelFlush":false,"labelBound":false,"grid":false,"domainColor":"#d9d9d9","tickColor":"#d9d9d9","tickSize":5,"labelPadding":22,"offset":-122}},
   "y":{"field":"v","type":"quantitative","scale":{"domain":[0,0.0007],"range":[298,92.3],"nice":false},
        "axis":{"values":[0,0.0001,0.0002,0.0003,0.0004,0.0005,0.0006,0.0007],"format":"~g","ticks":false,"tickSize":0,"domain":false,"grid":true,"gridColor":"#d9d9d9","gridWidth":1.3,"labelPadding":20,"offset":-104}},
   "y2":{"datum":0}}}
]
}
